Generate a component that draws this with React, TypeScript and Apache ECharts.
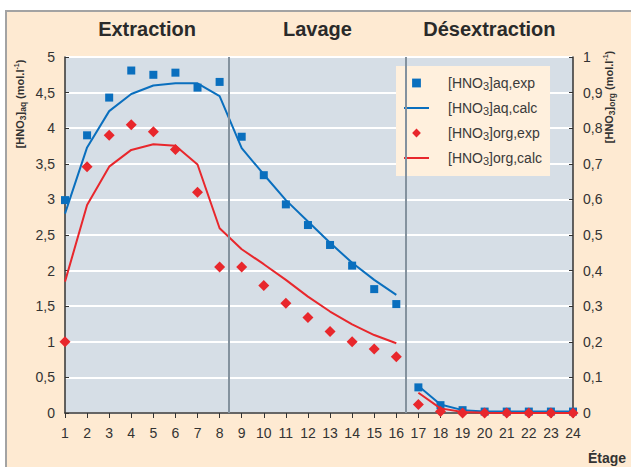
import React, { useEffect, useRef } from 'react';
import * as echarts from 'echarts';

// ---- data ----
const steps = [1, 2, 3, 4, 5, 6, 7, 8, 9, 10, 11, 12, 13, 14, 15, 16, 17, 18, 19, 20, 21, 22, 23, 24];
const aqExp = [2.99, 3.9, 4.43, 4.81, 4.75, 4.78, 4.57, 4.65, 3.88, 3.34, 2.93, 2.64, 2.36, 2.07, 1.74, 1.53, 0.36, 0.11, 0.04, 0.02, 0.02, 0.02, 0.02, 0.02];
const aqCalc = [2.8, 3.73, 4.24, 4.48, 4.6, 4.63, 4.63, 4.45, 3.72, 3.35, 2.99, 2.69, 2.39, 2.11, 1.87, 1.66, 0.38, 0.12, 0.04, 0.02, 0.02, 0.02, 0.02, 0.02];
const orgExp = [0.2, 0.692, 0.78, 0.81, 0.79, 0.74, 0.62, 0.41, 0.41, 0.358, 0.308, 0.268, 0.229, 0.2, 0.18, 0.158, 0.024, 0.004, 0, 0, 0, 0, 0, 0];
const orgCalc = [0.369, 0.584, 0.692, 0.739, 0.755, 0.751, 0.698, 0.519, 0.46, 0.418, 0.374, 0.327, 0.285, 0.249, 0.219, 0.196, 0.057, 0.013, 0.003, 0.001, 0, 0, 0, 0];
const stageNames = ['Extraction', 'Lavage', 'Désextraction'];
const stageBounds = [1, 8.43, 16.43, 24];
const lineBreakAfter = 16;
const seriesNames = ['[HNO3]aq,exp', '[HNO3]aq,calc', '[HNO3]org,exp', '[HNO3]org,calc'];

const BLUE = '#0a6fbe';
const RED = '#e8272c';
const FONT = '"Liberation Sans", Arial, sans-serif';
const TXT = '#333333';

const pairs = (vals: number[]) => steps.map((s, i) => [s, vals[i]]);
const pairsWithBreak = (vals: number[]) => {
  const out: any[] = [];
  steps.forEach((s, i) => {
    out.push([s, vals[i]]);
    if (s === lineBreakAfter) out.push([s + 0.5, '-']);
  });
  return out;
};
const comma = (v: number) => String(Math.round(v * 100) / 100).replace('.', ',');

export default function App() {
  const ref = useRef<HTMLDivElement>(null);
  useEffect(() => {
    if (!ref.current) return;
    const chart = echarts.init(ref.current, undefined, { renderer: 'svg' });
    const sepLines = stageBounds.slice(1, -1).map((b) => ({ xAxis: b }));
    const areas = stageNames.map((n, i) => [{ xAxis: stageBounds[i], name: n }, { xAxis: stageBounds[i + 1] }]);
    const nameRich = {
      b: { fontSize: 11, fontWeight: 'bold', fontFamily: FONT, fill: TXT, lineHeight: 14, verticalAlign: 'middle' },
      s: { fontSize: 8.5, fontWeight: 'bold', fontFamily: FONT, fill: TXT, lineHeight: 7, verticalAlign: 'bottom' },
      p: { fontSize: 7, fontWeight: 'bold', fontFamily: FONT, fill: TXT, lineHeight: 7, verticalAlign: 'top' },
    };
    const expLine = { width: 0, opacity: 0 };
    chart.setOption({
      animation: false,
      textStyle: { fontFamily: FONT },
      grid: { left: 65, right: 58, top: 57, bottom: 54, show: true, backgroundColor: '#d6dee6', borderWidth: 0 },
      legend: {
        orient: 'vertical',
        left: 396,
        top: 66,
        backgroundColor: '#fff0dd',
        padding: [9, 8, 10, 7],
        itemWidth: 25,
        itemHeight: 11,
        itemGap: 9,
        data: [
          { name: seriesNames[0], lineStyle: { opacity: 0, width: 0 } },
          { name: seriesNames[1], itemStyle: { opacity: 0 } },
          { name: seriesNames[2], lineStyle: { opacity: 0, width: 0 } },
          { name: seriesNames[3], itemStyle: { opacity: 0 } },
        ],
        formatter: (n: string) => n.replace('HNO3', 'HNO{sub|3}'),
        textStyle: {
          fontSize: 14,
          color: '#3a3a3a',
          lineHeight: 16,
          padding: [0, 0, 0, 14],
          rich: { sub: { fontSize: 11, lineHeight: 9, verticalAlign: 'bottom', color: '#3a3a3a' } },
        },
      },
      xAxis: {
        type: 'value',
        min: 1,
        max: 24,
        interval: 1,
        axisLine: { show: true, onZero: false, lineStyle: { color: '#333', width: 1.5 } },
        axisTick: { show: true, inside: false, length: 5, lineStyle: { color: '#333' } },
        axisLabel: { fontSize: 14, color: TXT, margin: 13 },
        splitLine: { show: false },
      },
      yAxis: [
        {
          type: 'value',
          min: 0,
          max: 5,
          interval: 0.5,
          position: 'left',
          axisLine: { show: true, lineStyle: { color: '#333', width: 1.5 } },
          axisTick: { show: true, inside: true, length: 4, lineStyle: { color: '#333' } },
          axisLabel: { fontSize: 14, color: TXT, margin: 10, formatter: comma },
          splitLine: { show: true, lineStyle: { color: '#ffffff', width: 2 } },
        },
        {
          type: 'value',
          min: 0,
          max: 1,
          interval: 0.1,
          position: 'right',
          axisLine: { show: true, lineStyle: { color: '#333', width: 1.5 } },
          axisTick: { show: true, inside: true, length: 4, lineStyle: { color: '#333' } },
          axisLabel: { fontSize: 14, color: TXT, margin: 10, formatter: comma },
          splitLine: { show: false },
        },
      ],
      graphic: [
        {
          type: 'text',
          x: 20,
          y: 104,
          rotation: Math.PI / 2,
          style: {
            text: '{b|[HNO}{s|3}{b|]}{s|aq}{b| (mol.l}{p|-1}{b|)}',
            rich: nameRich,
            align: 'center',
            verticalAlign: 'middle',
          },
        },
        {
          type: 'text',
          x: 609,
          y: 97,
          rotation: Math.PI / 2,
          style: {
            text: '{b|[HNO}{s|3}{b|]}{s|org}{b| (mol.l}{p|-1}{b|)}',
            rich: nameRich,
            align: 'center',
            verticalAlign: 'middle',
          },
        },
        {
          type: 'text',
          x: 607,
          y: 458,
          style: { text: 'Étage', fontSize: 14, fontWeight: 'bold', fontFamily: FONT, fill: TXT, align: 'center', verticalAlign: 'middle' },
        },
      ],
      series: [
        {
          name: seriesNames[1],
          type: 'line',
          yAxisIndex: 0,
          data: pairsWithBreak(aqCalc),
          symbol: 'none',
          connectNulls: false,
          color: BLUE,
          lineStyle: { color: BLUE, width: 2 },
          markLine: {
            silent: true,
            symbol: ['none', 'none'],
            label: { show: false },
            lineStyle: { color: '#84929e', width: 2, type: 'solid' },
            data: sepLines,
          },
          markArea: {
            silent: true,
            itemStyle: { color: 'rgba(0,0,0,0)' },
            label: { show: true, position: 'top', distance: 18, fontSize: 20, fontWeight: 'bold', color: '#2a2a2a', fontFamily: FONT },
            data: areas,
          },
          z: 2,
        },
        {
          name: seriesNames[0],
          type: 'line',
          yAxisIndex: 0,
          data: pairs(aqExp),
          symbol: 'rect',
          symbolSize: 8,
          showSymbol: true,
          color: BLUE,
          itemStyle: { color: BLUE },
          lineStyle: expLine,
          z: 3,
        },
        {
          name: seriesNames[3],
          type: 'line',
          yAxisIndex: 1,
          data: pairsWithBreak(orgCalc),
          symbol: 'none',
          connectNulls: false,
          color: RED,
          lineStyle: { color: RED, width: 2 },
          z: 4,
        },
        {
          name: seriesNames[2],
          type: 'line',
          yAxisIndex: 1,
          data: pairs(orgExp),
          symbol: 'diamond',
          symbolSize: 11,
          showSymbol: true,
          color: RED,
          itemStyle: { color: RED },
          lineStyle: expLine,
          z: 5,
        },
      ],
    });
    return () => chart.dispose();
  }, []);

  return (
    <div style={{ position: 'fixed', left: 0, top: 0, width: 631, height: 467, background: '#ffffff', overflow: 'hidden' }}>
      <div
        style={{
          position: 'absolute',
          left: 5,
          top: 10,
          right: 0,
          bottom: 0,
          background: '#feead2',
          borderLeft: '2px solid #a3a3a3',
          borderTop: '2px solid #a3a3a3',
        }}
      />
      <div ref={ref} style={{ position: 'absolute', left: 0, top: 0, width: 631, height: 467 }} />
    </div>
  );
}
